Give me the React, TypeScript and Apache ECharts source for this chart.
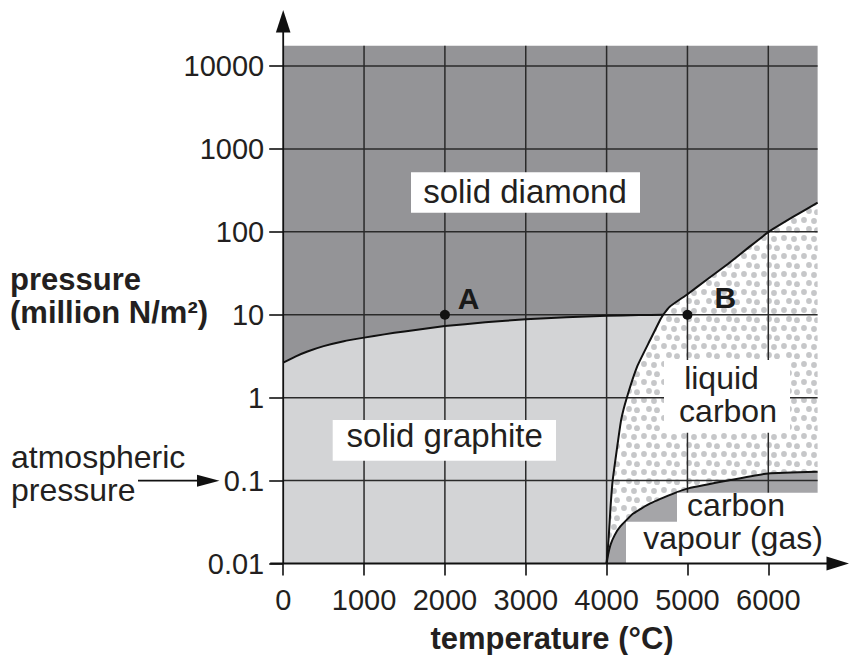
import React, { useEffect, useRef } from 'react';
import * as echarts from 'echarts';

// ---- axis ticks ----
const xTicks = [0, 1000, 2000, 3000, 4000, 5000, 6000];
const xTickLabels = ['0', '1000', '2000', '3000', '4000', '5000', '6000'];
const yTicks = [0.01, 0.1, 1, 10, 100, 1000, 10000];
const yTickLabels = ['0.01', '0.1', '1', '10', '100', '1000', '10000'];

// plotted extent of the phase regions (temperature °C, pressure million N/m²)
const xExtent = [0, 6610];
const yExtent = [0.01, 17500];

// ---- phase boundaries [temperature, pressure] ----
const graphiteDiamond = [
  [0, 2.65], [150, 3.13], [300, 3.6], [500, 4.18], [750, 4.8], [1000, 5.3], [1250, 5.8],
  [1500, 6.3], [2000, 7.3], [2500, 8.1], [3000, 8.8], [3500, 9.3], [4000, 9.7],
  [4400, 9.9], [4700, 10],
];
const diamondLiquid = [
  [4700, 10], [4780, 12.5], [5000, 17.7], [5250, 27], [5500, 41], [5750, 64],
  [6000, 99], [6300, 150], [6610, 225],
];
const graphiteLiquid = [
  [4000, 0.01], [4025, 0.02], [4050, 0.05], [4075, 0.1], [4130, 0.25], [4180, 0.54],
  [4250, 1], [4380, 2.4], [4540, 5], [4660, 8.6], [4700, 10],
];
const liquidVapour = [
  [4000, 0.01], [4020, 0.013], [4050, 0.017], [4100, 0.022], [4170, 0.028], [4330, 0.04],
  [4540, 0.053], [4880, 0.073], [5000, 0.08], [5500, 0.1], [6000, 0.122], [6610, 0.128],
];

// ---- marked points ----
const pointNames = ['A', 'B'];
const pointValues = [[2000, 10], [5000, 10]];

const FONT = '"Liberation Sans", Arial, Helvetica, sans-serif';
const TEXT = '#231f20';
const C_DIAMOND = '#949497';
const C_GRAPHITE = '#d3d4d6';
const C_VAPOUR = '#a5a5a8';
const C_GRID = '#2a2a2a';
const C_DOT = '#c6c7c9';

const GRID = { left: 283.2, top: 66, width: 485.1, height: 497.5 };
const OX = GRID.left;
const OY = GRID.top + GRID.height;

const TILE_W = 20;
const TILE_H = 18;

function makeDotPattern() {
  const cv = document.createElement('canvas');
  cv.width = TILE_W;
  cv.height = TILE_H;
  const g = cv.getContext('2d')!;
  g.fillStyle = '#ffffff';
  g.fillRect(0, 0, TILE_W, TILE_H);
  g.fillStyle = C_DOT;
  const dots = [[4, 4], [14, 5], [9, 13], [17, 14.2]];
  dots.forEach(([x, y]) => {
    g.beginPath();
    g.arc(x, y, 2.9, 0, Math.PI * 2);
    g.fill();
  });
  return cv.toDataURL();
}

function labelFor(v: number, ticks: number[], labels: string[], log: boolean) {
  for (let i = 0; i < ticks.length; i++) {
    const d = log ? Math.abs(Math.log10(v) - Math.log10(ticks[i])) : Math.abs(v - ticks[i]);
    if (d < 1e-6) return labels[i];
  }
  return '';
}

export default function App() {
  const ref = useRef<HTMLDivElement>(null);
  useEffect(() => {
    const chart = echarts.init(ref.current!, null, { renderer: 'svg' });
    const dotUrl = makeDotPattern();

    const renderItem = (_params: any, api: any) => {
      const c = (d: number[]) => api.coord(d);
      const [x0, x1] = xExtent;
      const [y0, y1] = yExtent;
      const poly = (pts: number[][], fill: any) => ({
        type: 'polygon',
        shape: { points: pts },
        style: { fill, stroke: 'none' },
      });
      const gl = (a: number[], b: number[]) => {
        const p = c(a), q = c(b);
        return {
          type: 'line',
          shape: { x1: p[0], y1: p[1], x2: q[0], y2: q[1] },
          style: { stroke: C_GRID, lineWidth: 1.5 },
        };
      };
      const curve = (arr: number[][]) => ({
        type: 'polyline',
        shape: { points: arr.map(c), smooth: 0.15 },
        style: { stroke: '#111', lineWidth: 2, fill: 'none' },
      });
      const diamond = [c([x0, y1]), ...graphiteDiamond.map(c), ...diamondLiquid.map(c), c([x1, y1])];
      const graphite = [c([x0, y0]), ...graphiteDiamond.map(c), ...graphiteLiquid.slice().reverse().map(c)];
      const liquid = [...graphiteLiquid.map(c), ...diamondLiquid.map(c), ...liquidVapour.slice().reverse().map(c)];
      const vapour = [...liquidVapour.map(c), c([x1, y0])];
      const children: any[] = [
        poly(diamond, C_DIAMOND),
        poly(graphite, C_GRAPHITE),
        poly(liquid, '#ffffff'),
        poly(liquid, { image: dotUrl, repeat: 'repeat', imageWidth: TILE_W, imageHeight: TILE_H }),
        poly(vapour, C_VAPOUR),
        ...xTicks.filter((v) => v > x0).map((v) => gl([v, y0], [v, y1])),
        ...yTicks.filter((v) => v > y0).map((v) => gl([x0, v], [x1, v])),
        curve(graphiteDiamond),
        curve(diamondLiquid),
        curve(graphiteLiquid),
        curve(liquidVapour),
      ];
      return { type: 'group', children };
    };

    const box = (x: number, y: number, w: number, h: number) => ({
      type: 'rect', z: 10, silent: true,
      shape: { x, y, width: w, height: h },
      style: { fill: '#ffffff' },
    });
    const txt = (text: string, x: number, y: number, size: number, align = 'center', bold = false) => ({
      type: 'text', z: 11, silent: true, x, y,
      style: {
        text, fill: TEXT, fontFamily: FONT, fontSize: size, fontWeight: bold ? 'bold' : 'normal',
        align, verticalAlign: 'middle',
      },
    });

    chart.setOption({
      animation: false,
      backgroundColor: '#ffffff',
      grid: { ...GRID, containLabel: false, outerBoundsMode: 'none' },
      xAxis: {
        type: 'value', min: 0, max: 6000, interval: 1000,
        axisLine: { show: false },
        axisTick: { show: true, length: 12, lineStyle: { color: '#111', width: 1.6 } },
        axisLabel: {
          margin: 22, fontSize: 29, lineHeight: 29, fontFamily: FONT, color: TEXT,
          formatter: (v: number) => labelFor(v, xTicks, xTickLabels, false),
        },
        splitLine: { show: false },
      },
      yAxis: {
        type: 'log', logBase: 10, min: 0.01, max: 10000, splitNumber: 6,
        axisLine: { show: false },
        axisTick: { show: true, length: 14, lineStyle: { color: '#111', width: 1.6 } },
        axisLabel: {
          margin: 19, fontSize: 29, fontFamily: FONT, color: TEXT,
          formatter: (v: number) => labelFor(v, yTicks, yTickLabels, true),
        },
        splitLine: { show: false },
        minorTick: { show: false },
        minorSplitLine: { show: false },
      },
      series: [
        {
          type: 'custom',
          silent: true,
          z: 2,
          clip: false,
          renderItem,
          data: [[0, 1]],
        },
        {
          type: 'scatter',
          z: 5,
          silent: true,
          symbol: 'circle',
          symbolSize: 10,
          itemStyle: { color: '#111', opacity: 1 },
          data: pointValues.map((v, i) => ({
            value: v,
            label: {
              show: true,
              formatter: pointNames[i],
              position: i === 0 ? [28.7, -11] : [42.8, -12.3],
              align: 'center',
              verticalAlign: 'middle',
              fontSize: 30,
              fontWeight: 'bold',
              fontFamily: FONT,
              color: '#1a1a1a',
              opacity: 1,
            },
          })),
        },
      ],
      graphic: [
        box(411, 172.3, 229, 40.4),
        box(332.7, 420, 223.3, 40.7),
        box(664, 360, 126, 72.7),
        box(677, 492.7, 165, OY - 492.7),
        box(626, 521.7, 216, OY - 521.7),
        txt('solid diamond', 525, 191.3, 33),
        txt('solid graphite', 444.7, 435.3, 33),
        txt('liquid', 721.5, 378.2, 32),
        txt('carbon', 728, 410.7, 32),
        txt('carbon', 736, 505.3, 32),
        txt('vapour (gas)', 733, 537.9, 32),
        txt('pressure', 10, 279.3, 31, 'left', true),
        txt('(million N/m\u00B2)', 10, 312.6, 31, 'left', true),
        txt('atmospheric', 11, 457.4, 32, 'left'),
        txt('pressure', 11, 489.9, 32, 'left'),
        txt('temperature (\u00B0C)', 552, 638, 31, 'center', true),
        // atmospheric pressure pointer
        {
          type: 'line', z: 20, silent: true,
          shape: { x1: 138, y1: 480.7, x2: 200, y2: 480.7 },
          style: { stroke: '#111', lineWidth: 1.8 },
        },
        {
          type: 'polygon', z: 20, silent: true,
          shape: { points: [[197, 474.7], [219.5, 480.7], [197, 486.7]] },
          style: { fill: '#111' },
        },
        // axis lines with arrows
        {
          type: 'line', z: 20, silent: true,
          shape: { x1: OX, y1: OY, x2: OX, y2: 30 },
          style: { stroke: '#111', lineWidth: 1.8 },
        },
        {
          type: 'polygon', z: 20, silent: true,
          shape: { points: [[OX - 7.3, 32.5], [OX, 10], [OX + 7.3, 32.5]] },
          style: { fill: '#111' },
        },
        {
          type: 'line', z: 20, silent: true,
          shape: { x1: OX - 13, y1: OY, x2: 830, y2: OY },
          style: { stroke: '#111', lineWidth: 1.8 },
        },
        {
          type: 'polygon', z: 20, silent: true,
          shape: { points: [[826.5, OY - 7], [849, OY], [826.5, OY + 7]] },
          style: { fill: '#111' },
        },
      ],
    });
    return () => chart.dispose();
  }, []);
  return (
    <div
      ref={ref}
      style={{ position: 'fixed', left: 0, top: 0, width: 852, height: 655, background: '#fff' }}
    />
  );
}
